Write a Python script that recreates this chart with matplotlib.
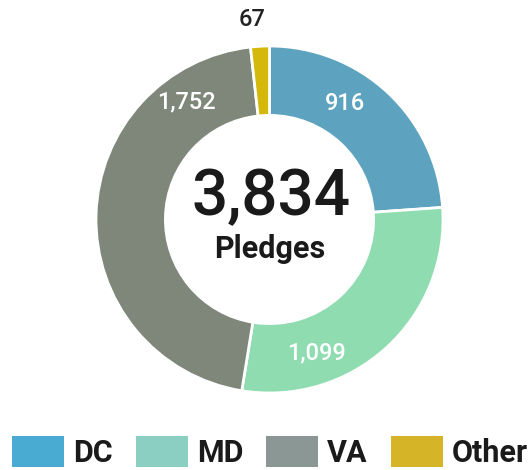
import numpy as np
import matplotlib
matplotlib.use("Agg")
import matplotlib.pyplot as plt
from matplotlib.patches import Patch

# data
regions = ["DC", "MD", "VA", "Other"]
pledges = [916, 1099, 1752, 67]
wedge_colors = ["#5DA3C0", "#8EDCB0", "#7E877A", "#D4B80A"]
legend_colors = ["#4AABD2", "#8BCFC3", "#8A9794", "#D5B427"]

# label placement (angle in deg, radius as fraction of outer radius)
label_angle = [56.9, -70.7, 125.1, 95]
label_radius = [0.80, 0.812, 0.83, 1.16]
label_color = ["white", "white", "white", "#222222"]

plt.rcParams["font.family"] = ["Roboto", "DejaVu Sans"]

fig = plt.figure(figsize=(5.31, 4.70), dpi=100)
cx, cy, r = 269.5, 219.5, 173.5  # px
ax = fig.add_axes([(cx - r) / 531, (470 - cy - r) / 470, 2 * r / 531, 2 * r / 470])

ax.pie(pledges, colors=wedge_colors, startangle=90, counterclock=False, radius=1,
       wedgeprops=dict(width=0.4, edgecolor="white", linewidth=2))
ax.set_xlim(-1, 1)
ax.set_ylim(-1, 1)
ax.set_aspect("equal")
ax.axis("off")

for val, ang, rad, col in zip(pledges, label_angle, label_radius, label_color):
    t = np.deg2rad(ang)
    ax.text(rad * np.cos(t), rad * np.sin(t), f"{val:,}", color=col, fontsize=17,
            ha="center", va="center", fontweight="medium", clip_on=False)

ax.text(0.01, 0.13, f"{sum(pledges):,}", fontsize=46, fontweight="medium", color="#1a1a1a",
        ha="center", va="center")
ax.text(0.0, -0.17, "Pledges", fontsize=22, fontweight="bold", color="#1a1a1a",
        ha="center", va="center")

handles = [Patch(facecolor=c, edgecolor="none") for c in legend_colors]
fig.legend(handles, regions, loc="lower left", bbox_to_anchor=(12 / 531, 2 / 470), ncol=4,
           frameon=False, handlelength=1.7, handleheight=1.18,
           handletextpad=0.3, columnspacing=0.75, borderaxespad=0, borderpad=0,
           prop=dict(size=22, weight="bold"), labelcolor="#1a1a1a")

fig.savefig("out.png", dpi=100)
